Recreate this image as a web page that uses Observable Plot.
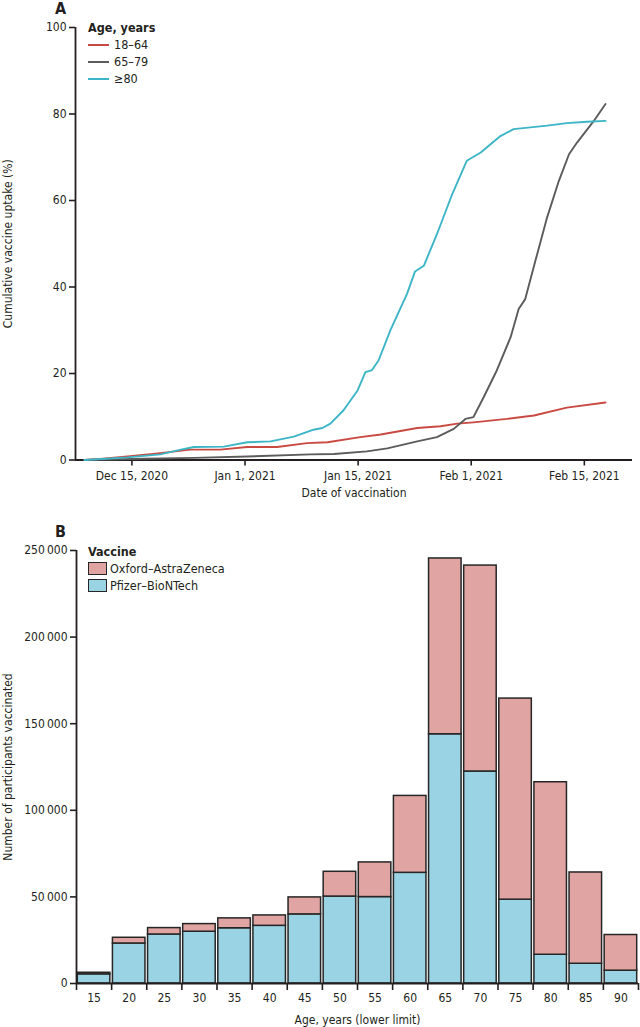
<!DOCTYPE html>
<html><head><meta charset="utf-8">
<script src="https://cdn.jsdelivr.net/npm/d3@7"></script>
<script src="https://cdn.jsdelivr.net/npm/@observablehq/plot@0.6"></script>
<style>
body{margin:0;background:#fff;}
.panel{position:relative;width:640px;}
.panel svg{display:block;}
.legend{position:absolute;font-family:'Liberation Sans Narrow','DejaVu Sans Condensed',sans-serif;font-size:12.5px;color:#231f20;line-height:17px;}
.legend .title{font-weight:bold;}
.legend .row{display:flex;align-items:center;height:17px;}
.legend .ln{width:21px;height:0;border-top:2px solid;margin-right:5px;}
.legend .sw{width:17px;height:11px;border:1.4px solid #262626;margin-right:3px;}
</style></head><body>
<div class="panel" id="pA"></div>
<div class="panel" id="pB"></div>
<script>
const FONT = "'Liberation Sans Narrow','DejaVu Sans Condensed',sans-serif";
const INK = "#231f20";
const FS = 12;

// ---------- Panel A data (x = days since 8 Dec 2020, on the chart's evenly spaced date axis) ----------
const dateTickDays = [7, 22.5, 38, 53.5, 69];
const dateTickLabels = ["Dec 15, 2020", "Jan 1, 2021", "Jan 15, 2021", "Feb 1, 2021", "Feb 15, 2021"];
const uptakeTicks = [0, 20, 40, 60, 80, 100];
const ageGroups = ["18–64", "65–79", "≥80"];
const lineColors = ["#c94a42", "#5b5b5b", "#3cb5c6"];

const days18to64 = [0.5, 3, 6.4, 10.9, 15, 19.1, 22.8, 26.9, 31, 33.8, 38.3, 41.1, 46.1, 49.3, 51.6, 53.8, 58.4, 62.1, 66.6, 71.9];
const uptake18to64 = [0, 0.3, 0.8, 1.6, 2.4, 2.4, 3.0, 3.0, 3.9, 4.1, 5.3, 5.9, 7.4, 7.8, 8.4, 8.7, 9.5, 10.3, 12.1, 13.3];

const days65to79 = [0.5, 8.6, 15.5, 22.8, 31.5, 34.7, 39.2, 42, 46.1, 48.8, 51.1, 52.7, 53.8, 55.2, 57, 58.9, 60, 60.9, 62.3, 63.9, 65.5, 66.9, 68, 70.3, 71.9];
const uptake65to79 = [0, 0.3, 0.5, 0.8, 1.3, 1.4, 2.0, 2.7, 4.3, 5.3, 7.2, 9.5, 9.9, 14.5, 20.7, 28.4, 34.9, 37.2, 46.1, 56.1, 64.5, 70.7, 73.4, 78.4, 82.3];

const days80plus = [0.5, 6.4, 10.9, 13.7, 15.5, 19.6, 22.8, 26, 29.2, 31.9, 33.1, 34.2, 36, 37.9, 39, 39.9, 40.8, 42.4, 44.7, 45.8, 47, 48.8, 50.9, 52.9, 54.8, 57.5, 59.3, 63.9, 66.6, 69.4, 71.9];
const uptake80plus = [0, 0.6, 1.3, 2.4, 3.0, 3.1, 4.1, 4.3, 5.4, 7.0, 7.4, 8.4, 11.5, 16.0, 20.3, 20.8, 23.0, 29.9, 38.4, 43.6, 44.9, 52.2, 61.5, 69.2, 71.1, 74.9, 76.5, 77.3, 77.9, 78.2, 78.4];

// ---------- Panel B data ----------
const ageLower = [15, 20, 25, 30, 35, 40, 45, 50, 55, 60, 65, 70, 75, 80, 85, 90];
const pfizer = [5300, 23100, 28300, 29900, 31900, 33300, 39900, 50200, 49900, 63900, 143900, 122400, 48400, 16600, 11400, 7400];
const totalVaccinated = [6200, 26400, 32000, 34300, 37600, 39300, 49700, 64500, 69900, 108300, 245400, 241300, 164500, 116200, 64100, 28000];
const astraZeneca = totalVaccinated.map((t, i) => t - pfizer[i]);
const vaccines = ["Oxford–AstraZeneca", "Pfizer–BioNTech"];
const barColors = ["#e0a4a2", "#99d3e4"];
const countTicks = [0, 50000, 100000, 150000, 200000, 250000];

// ---------- Panel A ----------
const seriesDays = [days18to64, days65to79, days80plus];
const seriesVals = [uptake18to64, uptake65to79, uptake80plus];
const lineData = [];
ageGroups.forEach((g, i) => seriesDays[i].forEach((d, j) => lineData.push({group: g, day: d, value: seriesVals[i][j]})));

const xMinA = -0.73, xMaxA = 75.6;
const chartA = Plot.plot({
  width: 640, height: 505,
  marginLeft: 75, marginRight: 8, marginTop: 27, marginBottom: 45.5,
  style: {fontFamily: FONT, fontSize: FS + "px", color: INK, background: "white", overflow: "visible"},
  x: {domain: [xMinA, xMaxA]},
  y: {domain: [0, 100]},
  color: {domain: ageGroups, range: lineColors},
  marks: [
    Plot.axisX({ticks: dateTickDays, tickFormat: d => dateTickLabels[dateTickDays.indexOf(d)], tickSize: 6, tickPadding: 5, label: null, stroke: INK, strokeWidth: 1.6, fontSize: FS}),
    Plot.axisY({ticks: uptakeTicks, tickSize: 6, tickPadding: 3, label: null, stroke: INK, strokeWidth: 1.6, fontSize: FS}),
    Plot.ruleX([xMinA], {stroke: INK, strokeWidth: 1.8}),
    Plot.ruleY([0], {stroke: INK, strokeWidth: 1.8}),
    Plot.line(lineData, {x: "day", y: "value", stroke: "group", strokeWidth: 1.9, strokeLinejoin: "round"}),
    Plot.text(["Date of vaccination"], {frameAnchor: "bottom", lineAnchor: "middle", textAnchor: "middle", dy: 33.5, fill: INK, fontSize: FS}),
    Plot.text(["Cumulative vaccine uptake (%)"], {frameAnchor: "left", lineAnchor: "middle", textAnchor: "middle", dx: -67, rotate: -90, fill: INK, fontSize: FS}),
    Plot.text(["A"], {frameAnchor: "top-left", lineAnchor: "middle", textAnchor: "middle", dx: -15, dy: -19, fill: INK, fontSize: 16, fontWeight: "bold"})
  ]
});
document.getElementById("pA").appendChild(chartA);
const legA = document.createElement("div");
legA.className = "legend";
legA.style.left = "88px"; legA.style.top = "19px";
legA.innerHTML = `<div class="title">Age, years</div>` +
  ageGroups.map((g, i) => `<div class="row"><span class="ln" style="border-color:${lineColors[i]}"></span>${g}</div>`).join("");
document.getElementById("pA").appendChild(legA);

// ---------- Panel B ----------
const barRows = [];
ageLower.forEach((a, i) => {
  barRows.push({age: a, vaccine: vaccines[1], y1: 0, y2: pfizer[i]});
  barRows.push({age: a, vaccine: vaccines[0], y1: pfizer[i], y2: pfizer[i] + astraZeneca[i]});
});
const boundaries = ageLower.concat([95]);
const fmtCount = d => d3.format(",")(d).replace(/,/g, "\u2009");

const chartB = Plot.plot({
  width: 640, height: 522,
  marginLeft: 76, marginRight: 2, marginTop: 45, marginBottom: 44,
  style: {fontFamily: FONT, fontSize: FS + "px", color: INK, background: "white", overflow: "visible"},
  x: {domain: [15, 95]},
  y: {domain: [0, 250000]},
  color: {domain: vaccines, range: barColors},
  marks: [
    Plot.rect(barRows, {x1: "age", x2: d => d.age + 5, y1: "y1", y2: "y2", fill: "vaccine", stroke: "#262626", strokeWidth: 1.5, insetLeft: 1.3, insetRight: 1.3}),
    Plot.axisY({ticks: countTicks, tickFormat: fmtCount, tickSize: 6, tickPadding: 3, label: null, stroke: INK, strokeWidth: 1.6, fontSize: FS}),
    Plot.axisX({ticks: boundaries, tickFormat: () => "", tickSize: 7, label: null, stroke: INK, strokeWidth: 1.6}),
    Plot.axisX({ticks: ageLower.map(a => a + 2.5), tickFormat: d => String(d - 2.5), tickSize: 0, tickPadding: 10, label: null, fontSize: FS}),
    Plot.ruleX([15], {stroke: INK, strokeWidth: 1.8}),
    Plot.ruleY([0], {stroke: INK, strokeWidth: 1.8}),
    Plot.text(["Age, years (lower limit)"], {frameAnchor: "bottom", lineAnchor: "middle", textAnchor: "middle", dy: 37, fill: INK, fontSize: FS}),
    Plot.text(["Number of participants vaccinated"], {frameAnchor: "left", lineAnchor: "middle", textAnchor: "middle", dx: -68, rotate: -90, fill: INK, fontSize: FS}),
    Plot.text(["B"], {frameAnchor: "top-left", lineAnchor: "middle", textAnchor: "middle", dx: -16, dy: -19, fill: INK, fontSize: 16, fontWeight: "bold"})
  ]
});
document.getElementById("pB").appendChild(chartB);
const legB = document.createElement("div");
legB.className = "legend";
legB.style.left = "88px"; legB.style.top = "38px";
legB.innerHTML = `<div class="title">Vaccine</div>` +
  vaccines.map((v, i) => `<div class="row"><span class="sw" style="background:${barColors[i]}"></span>${v}</div>`).join("");
document.getElementById("pB").appendChild(legB);
</script>
</body></html>
